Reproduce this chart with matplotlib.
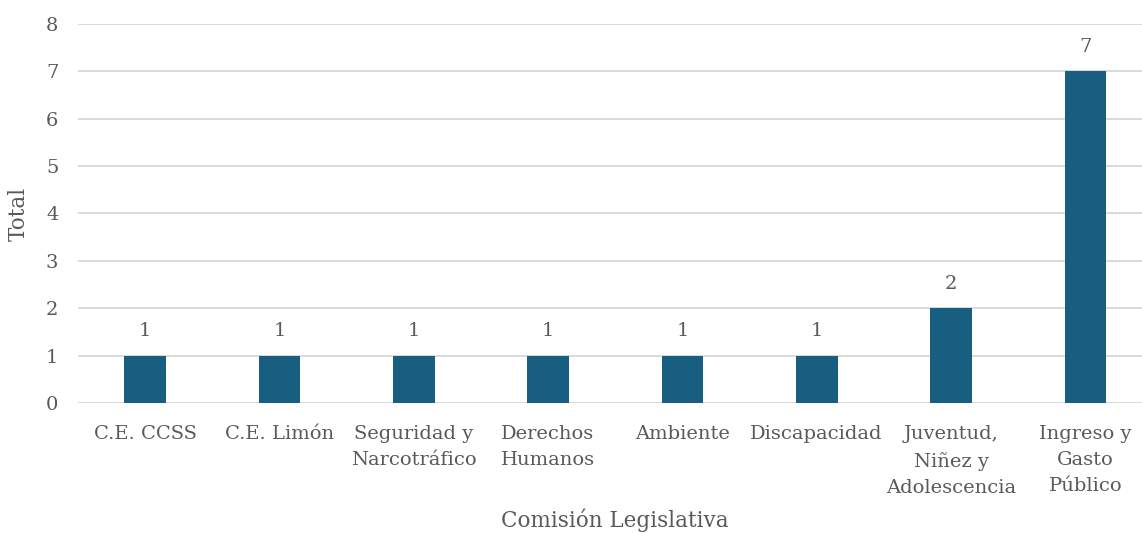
import matplotlib
matplotlib.use("Agg")
import matplotlib.pyplot as plt
import numpy as np

# Datos: total por comisión legislativa
comisiones = ["C.E. CCSS", "C.E. Limón", "Seguridad y\nNarcotráfico",
              "Derechos\nHumanos", "Ambiente", "Discapacidad",
              "Juventud,\nNiñez y\nAdolescencia", "Ingreso y\nGasto\nPúblico"]
totales = [1, 1, 1, 1, 1, 1, 2, 7]

plt.rcParams['font.family'] = ['DejaVu Serif']
gris = '#595959'

fig = plt.figure(figsize=(11.42, 5.33), dpi=100)
ax = fig.add_axes([0.0682, 0.244, 0.941, 0.711])

x = np.arange(len(comisiones))
ax.bar(x, totales, width=0.31, color='#175E81', zorder=3)

for xi, v in zip(x, totales):
    ax.text(xi, v + 0.32, str(v), ha='center', va='bottom', fontsize=14, color=gris)

ax.set_xlim(-0.5, len(comisiones) - 0.5)
ax.set_ylim(0, 8)
ax.set_yticks(range(0, 9))
ax.set_xticks(x)
ax.set_xticklabels(comisiones, fontsize=14, color=gris, linespacing=1.58)
ax.tick_params(axis='y', labelsize=14, labelcolor=gris, length=0, pad=14)
ax.tick_params(axis='x', length=0, pad=16)
ax.yaxis.grid(True, color='#D9D9D9', linewidth=1.4, zorder=0)
for s in ax.spines.values():
    s.set_visible(False)

ax.set_ylabel('Total', fontsize=15.5, color=gris, labelpad=12)
ax.set_xlabel('Comisión Legislativa', fontsize=15.5, color=gris, labelpad=8)

fig.savefig('out.png', dpi=100)
